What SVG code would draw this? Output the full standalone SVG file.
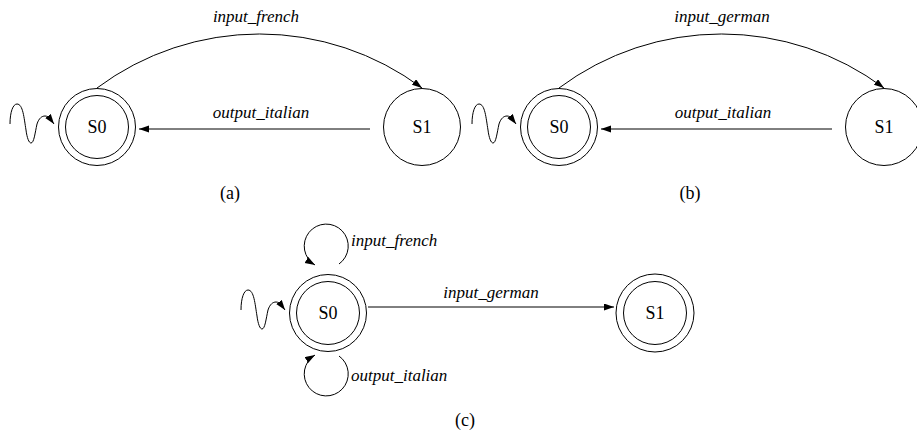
<svg xmlns="http://www.w3.org/2000/svg" width="917" height="443" viewBox="0 0 917 443" font-family="Liberation Serif, DejaVu Serif, serif">
<style>
.st{fill:none;stroke:#000;stroke-width:1}
.ed{fill:none;stroke:#000;stroke-width:1;marker-end:url(#ah)}
.nm{font-size:18px;text-anchor:middle;fill:#000}
.lb{font-size:17px;font-style:italic;fill:#000}
.cap{font-size:18px;text-anchor:middle;fill:#000}
</style>
<defs>
<marker id="ah" markerUnits="userSpaceOnUse" markerWidth="11" markerHeight="8" refX="10" refY="3.5" orient="auto">
<path d="M0,0 L10,3.5 L0,7 z" fill="#000"/>
</marker>
<path id="sq" d="M10,124 C10,112 13,104 17,104 C23,104 24,118 26,130 C27,138 29,143 31,143 C34,143 35,133 37,124 C39,118 42,116 45,116 C49,116 51,120 54,124"/>
</defs>

<!-- Panel (a) -->
<g id="a-S0">
<circle class="st" cx="97" cy="127" r="38.5"/>
<circle class="st" cx="97" cy="127" r="31.5"/>
<text class="nm" x="97" y="133" font-family="Liberation Serif, serif">S0</text>
</g>
<g id="a-S1">
<circle class="st" cx="422" cy="127" r="38.5"/>
<text class="nm" x="422" y="133" font-family="Liberation Serif, serif">S1</text>
</g>

<!-- Panel (b) -->
<g id="b-S0">
<circle class="st" cx="559" cy="127" r="38.5"/>
<circle class="st" cx="559" cy="127" r="31.5"/>
<text class="nm" x="559" y="133" font-family="Liberation Serif, serif">S0</text>
</g>
<g id="b-S1">
<circle class="st" cx="884" cy="127" r="38.5"/>
<text class="nm" x="884" y="133" font-family="Liberation Serif, serif">S1</text>
</g>

<!-- Panel (c) -->
<g id="c-S0">
<circle class="st" cx="328" cy="313" r="38.5"/>
<circle class="st" cx="328" cy="313" r="31.5"/>
<text class="nm" x="328" y="319" font-family="Liberation Serif, serif">S0</text>
</g>
<g id="c-S1">
<circle class="st" cx="655" cy="313" r="39"/>
<circle class="st" cx="655" cy="313" r="31.5"/>
<text class="nm" x="655" y="319" font-family="Liberation Serif, serif">S1</text>
</g>

<g id="connectors">
<use href="#sq" class="ed"/>
<path class="ed" d="M97,88 A271.5,271.5 0 0 1 422,88"/>
<path class="ed" d="M370,129 L139,129"/>
<use href="#sq" class="ed" transform="translate(462,0)"/>
<path class="ed" d="M559,88 A271.5,271.5 0 0 1 884,88"/>
<path class="ed" d="M832,129 L601,129"/>
<use href="#sq" class="ed" transform="translate(231,186)"/>
<path class="ed" d="M339,264 A22,22 0 1 0 315,265"/>
<path class="ed" d="M339,356 A22,22 0 1 1 315,355"/>
<path class="ed" d="M368,307 L614,307"/>
</g>

<g id="labels" font-family="Liberation Serif, serif">
<text class="lb" x="256" y="22" text-anchor="middle">input_french</text>
<text class="lb" x="261" y="118" text-anchor="middle">output_italian</text>
<text class="lb" x="722" y="22" text-anchor="middle">input_german</text>
<text class="lb" x="723" y="118" text-anchor="middle">output_italian</text>
<text class="lb" x="351" y="246">input_french</text>
<text class="lb" x="351" y="381">output_italian</text>
<text class="lb" x="491" y="298" text-anchor="middle">input_german</text>
<text class="cap" x="230" y="199">(a)</text>
<text class="cap" x="690" y="199">(b)</text>
<text class="cap" x="465" y="426">(c)</text>
</g>
</svg>
